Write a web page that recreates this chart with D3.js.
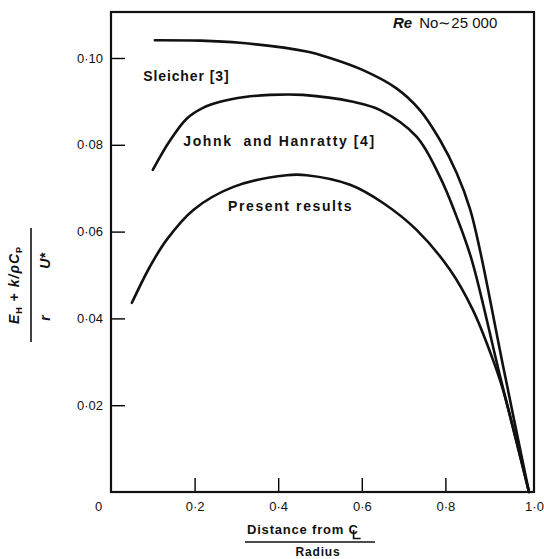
<!DOCTYPE html>
<html>
<head>
<meta charset="utf-8">
<script src="https://cdn.jsdelivr.net/npm/d3@7"></script>
<style>
body{margin:0;background:#fff}
text{font-family:"Liberation Sans",Arial,sans-serif;fill:#111}
</style>
</head>
<body>
<div id="chart"></div>
<script>
// values (r/R against the dimensionless diffusivity)
const xTicks = [0, 0.2, 0.4, 0.6, 0.8, 1.0];
const yTicks = [0.02, 0.04, 0.06, 0.08, 0.10];

const sleicherX = [0.105, 0.213, 0.309, 0.468, 0.524, 0.603, 0.683, 0.739, 0.787, 0.827, 0.859, 0.883, 0.940, 1.0];
const sleicherY = [0.1041, 0.1040, 0.1035, 0.1015, 0.1000, 0.0972, 0.0930, 0.0880, 0.0811, 0.0735, 0.0652, 0.0556, 0.0281, 0];

const johnkX = [0.100, 0.140, 0.181, 0.220, 0.261, 0.320, 0.380, 0.459, 0.579, 0.644, 0.731, 0.787, 0.827, 0.863, 0.930, 1.0];
const johnkY = [0.0742, 0.0808, 0.0860, 0.0885, 0.0899, 0.0910, 0.0915, 0.0915, 0.0899, 0.0880, 0.0819, 0.0726, 0.0634, 0.0535, 0.0270, 0];

const presentX = [0.050, 0.093, 0.133, 0.197, 0.293, 0.420, 0.468, 0.572, 0.651, 0.731, 0.811, 0.866, 0.911, 0.938, 1.0];
const presentY = [0.0436, 0.0519, 0.0581, 0.0650, 0.0703, 0.0730, 0.0730, 0.0708, 0.0666, 0.0604, 0.0512, 0.0419, 0.0312, 0.0235, 0];

const curveLabels = ["Sleicher [3]", "Johnk  and Hanratty [4]", "Present results"];

const W = 544, H = 559;
const svg = d3.select("#chart").append("svg")
    .attr("width", W).attr("height", H);

const x = d3.scaleLinear().domain([0, 1.012]).range([111, 534]);
const y = d3.scaleLinear().domain([0, 0.1106]).range([492, 12]);

const fmt = (d, n) => d === 0 ? "0" : d.toFixed(n).replace(".", "\u00b7");

// axes, ticks point inwards
let xAxis = svg.append("g")
    .attr("transform", "translate(0," + y(0) + ")")
    .call(d3.axisBottom(x).tickValues(xTicks).tickSize(-14).tickSizeOuter(0).tickPadding(10)
        .tickFormat(d => fmt(d, 1)));
xAxis.selectAll("text").style("font-size", "13px")
    .attr("dx", d => d === 0 ? -13 : (d === 1 ? 5 : 0));
xAxis.selectAll("line").attr("stroke-width", 1.4)
    .attr("display", d => (d === 0 || d === 1) ? "none" : null);
xAxis.select(".domain").remove();

let yAxis = svg.append("g")
    .attr("transform", "translate(" + x(0) + ",0)")
    .call(d3.axisLeft(y).tickValues(yTicks).tickSize(-14).tickSizeOuter(0).tickPadding(8)
        .tickFormat(d => fmt(d, 2)));
yAxis.selectAll("text").style("font-size", "13px");
yAxis.selectAll("line").attr("stroke-width", 1.4);
yAxis.select(".domain").remove();

// frame
svg.append("rect")
    .attr("x", x(0)).attr("y", y(0.1106))
    .attr("width", x(1.012) - x(0)).attr("height", y(0) - y(0.1106))
    .attr("fill", "none").attr("stroke", "#111").attr("stroke-width", 2.2);

// curves
const series = [
  {xs: sleicherX, ys: sleicherY},
  {xs: johnkX, ys: johnkY},
  {xs: presentX, ys: presentY}
];
const line = d3.line().x(d => x(d[0])).y(d => y(d[1])).curve(d3.curveCatmullRom.alpha(0.5));
svg.append("g").selectAll("path").data(series).enter().append("path")
    .attr("d", s => line(s.xs.map((v, i) => [v, s.ys[i]])))
    .attr("fill", "none").attr("stroke", "#111")
    .attr("stroke-width", 2.6).attr("stroke-linecap", "round");

// curve labels
const labelPos = [[0.077, 0.0948, 0.9], [0.173, 0.0798, 1.6], [0.280, 0.0648, 1.6]];
svg.append("g").selectAll("text").data(curveLabels).enter().append("text")
    .attr("x", (d, i) => x(labelPos[i][0]))
    .attr("y", (d, i) => y(labelPos[i][1]))
    .style("font-size", "14px").style("font-weight", "bold")
    .style("letter-spacing", (d, i) => labelPos[i][2] + "px")
    .style("white-space", "pre")
    .text(d => d);

// Reynolds number note
let re = svg.append("text").attr("x", 393).attr("y", 28)
    .style("font-size", "15px");
re.append("tspan").text("Re").style("font-style", "italic").style("font-weight", "bold");
re.append("tspan").attr("dx", 7).text("No\u223c25 000");

// x label
let xl = svg.append("g").attr("transform", "translate(310,0)");
let xt = xl.append("text").attr("x", -63).attr("y", 534)
    .style("font-size", "13px").style("font-weight", "bold").style("letter-spacing", "0.8px")
    .text("Distance from C");
// centre-line mark: an L drawn under the C
let n = xt.text().length;
let cx0 = xt.node().getStartPositionOfChar(n - 1).x;
let cx1 = xt.node().getEndPositionOfChar(n - 1).x;
let cm = (cx0 + cx1) / 2;
xl.append("path")
    .attr("d", "M" + cm + ",530 V538.5 H" + (cm + 7))
    .attr("fill", "none").attr("stroke", "#111").attr("stroke-width", 1.7);
xl.append("line").attr("x1", -65).attr("x2", 65).attr("y1", 542).attr("y2", 542)
    .attr("stroke", "#111").attr("stroke-width", 1.6);
xl.append("text").attr("x", 8).attr("y", 556).attr("text-anchor", "middle")
    .style("font-size", "12px").style("font-weight", "bold").style("letter-spacing", "0.8px")
    .text("Radius");

// y label (rotated fraction)
let yl = svg.append("g").attr("transform", "translate(0,285) rotate(-90)");
let num = yl.append("text").attr("x", 0).attr("y", 19).attr("text-anchor", "middle")
    .style("font-size", "14px").style("font-weight", "bold").style("letter-spacing", "1px");
num.append("tspan").text("E").style("font-style", "italic");
num.append("tspan").text("H").style("font-size", "9px").attr("dy", 3);
num.append("tspan").text(" + ").attr("dy", -3);
num.append("tspan").text("k/\u03c1C").style("font-style", "italic");
num.append("tspan").text("P").style("font-size", "9px").attr("dy", 3);
yl.append("line").attr("x1", -57).attr("x2", 57).attr("y1", 31).attr("y2", 31)
    .attr("stroke", "#111").attr("stroke-width", 1.6);
let den = yl.append("text").attr("x", -2).attr("y", 50).attr("text-anchor", "middle")
    .style("font-size", "14px").style("font-weight", "bold").style("white-space", "pre");
den.append("tspan").text("r").style("font-style", "italic");
den.append("tspan").text("            U*").style("font-style", "italic");
</script>
</body>
</html>
